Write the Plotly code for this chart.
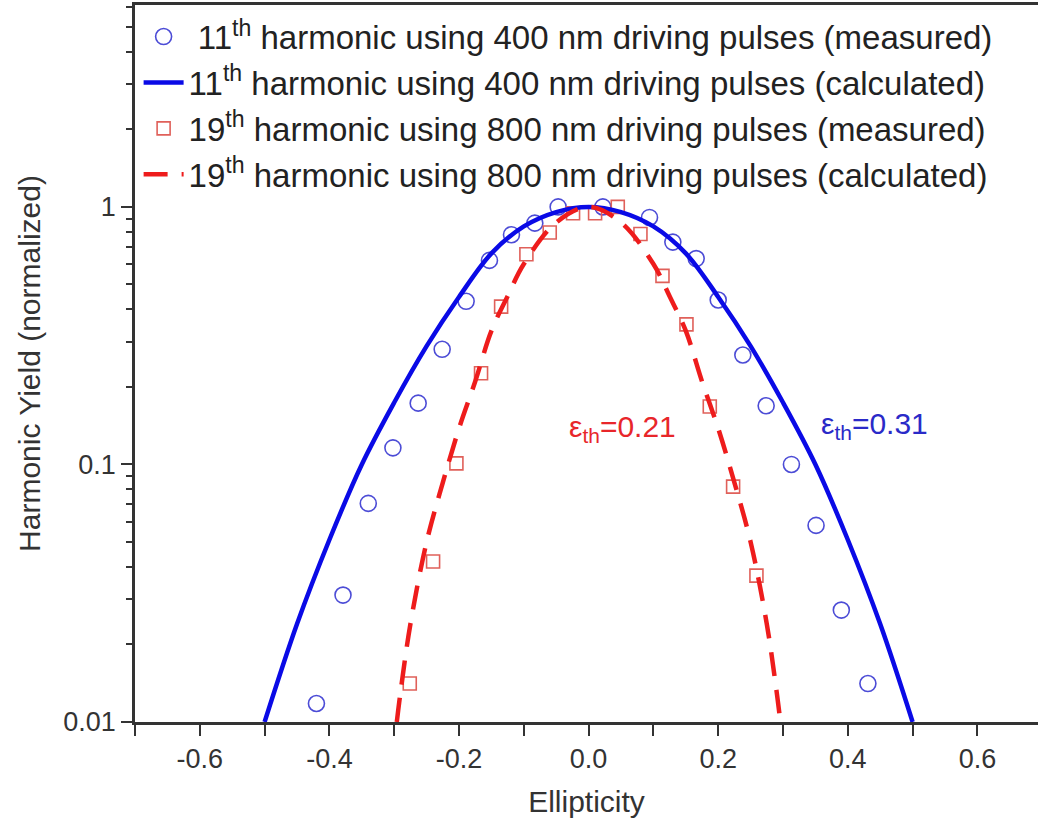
import plotly.graph_objects as go

# Measured 11th harmonic (400 nm) - open circles
circ_x = [-0.42, -0.379, -0.34, -0.302, -0.263, -0.226, -0.189, -0.153, -0.119, -0.083, -0.047,
          0.022, 0.094, 0.13, 0.166, 0.2, 0.238, 0.274, 0.313, 0.351, 0.39, 0.431]
circ_y = [0.0118, 0.0311, 0.0706, 0.116, 0.173, 0.28, 0.43, 0.62, 0.78, 0.865, 1.0,
          1.0, 0.91, 0.73, 0.63, 0.435, 0.266, 0.169, 0.10, 0.058, 0.0272, 0.0141]

# Measured 19th harmonic (800 nm) - open squares
sq_x = [-0.276, -0.240, -0.204, -0.166, -0.135, -0.096, -0.06, -0.024, 0.010, 0.045,
        0.080, 0.114, 0.151, 0.187, 0.223, 0.259]
sq_y = [0.0141, 0.042, 0.101, 0.226, 0.41, 0.655, 0.795, 0.945, 0.945, 1.0,
        0.785, 0.54, 0.35, 0.168, 0.082, 0.037]

# Calculated 11th harmonic (blue solid)
calc11_x = [-0.5, -0.45, -0.4, -0.35, -0.3, -0.25, -0.2, -0.15, -0.1, -0.05, 0.0,
            0.05, 0.1, 0.15, 0.2, 0.25, 0.3, 0.35, 0.4, 0.45, 0.5]
calc11_y = [0.01, 0.024, 0.051, 0.10, 0.174, 0.288, 0.447, 0.66, 0.84, 0.955, 1.0,
            0.955, 0.84, 0.66, 0.447, 0.288, 0.174, 0.10, 0.051, 0.024, 0.01]

# Calculated 19th harmonic (red dashed)
calc19_x = [-0.296, -0.29, -0.275, -0.25, -0.225, -0.2, -0.175, -0.15, -0.125, -0.1, -0.05, 0.0,
            0.05, 0.1, 0.125, 0.15, 0.175, 0.2, 0.225, 0.25, 0.275, 0.29, 0.296]
calc19_y = [0.01, 0.0132, 0.024, 0.050, 0.085, 0.138, 0.21, 0.33, 0.45, 0.60, 0.87, 1.0,
            0.87, 0.60, 0.45, 0.33, 0.21, 0.138, 0.085, 0.050, 0.024, 0.0132, 0.01]

names = [
    "\u00a011<sup>th</sup> harmonic using 400 nm driving pulses (measured)",
    "11<sup>th</sup> harmonic using 400 nm driving pulses (calculated)",
    "19<sup>th</sup> harmonic using 800 nm driving pulses (measured)",
    "19<sup>th</sup> harmonic using 800 nm driving pulses (calculated)",
]

x_ticks = [-0.6, -0.4, -0.2, 0.0, 0.2, 0.4, 0.6]
x_ticktext = ["-0.6", "-0.4", "-0.2", "0.0", "0.2", "0.4", "0.6"]
y_ticks = [0.01, 0.1, 1]
y_ticktext = ["0.01", "0.1", "1"]

FONT = "Liberation Sans, Arial, sans-serif"

fig = go.Figure()
fig.add_trace(go.Scatter(x=circ_x, y=circ_y, mode="markers", name=names[0], legendrank=1,
                         marker=dict(symbol="circle-open", size=16, color="#4c4cd6",
                                     line=dict(width=1.6, color="#4c4cd6"))))
fig.add_trace(go.Scatter(x=sq_x, y=sq_y, mode="markers", name=names[2], legendrank=3,
                         marker=dict(symbol="square-open", size=13, color="#e0605a",
                                     line=dict(width=1.6, color="#e0605a"))))
fig.add_trace(go.Scatter(x=calc11_x, y=calc11_y, mode="lines", name=names[1], legendrank=2,
                         line=dict(color="#0a0ae6", width=4.5, shape="spline")))
fig.add_trace(go.Scatter(x=calc19_x, y=calc19_y, mode="lines", name=names[3], legendrank=4,
                         line=dict(color="#ee1c1c", width=4.5, dash="24px,14px", shape="spline")))

fig.add_annotation(xref="paper", yref="paper", x=0.478, y=0.41, xanchor="left", yanchor="middle",
                   text="\u03b5<sub>th</sub>=0.21", showarrow=False,
                   font=dict(family=FONT, size=30, color="#e8262a"))
fig.add_annotation(xref="paper", yref="paper", x=0.757, y=0.414, xanchor="left", yanchor="middle",
                   text="\u03b5<sub>th</sub>=0.31", showarrow=False,
                   font=dict(family=FONT, size=30, color="#2a2ac8"))

fig.update_layout(
    width=1038, height=834,
    margin=dict(l=135, r=0, t=5, b=112),
    paper_bgcolor="white", plot_bgcolor="white",
    font=dict(family=FONT, color="#222222"),
    showlegend=True,
    legend=dict(x=0.004, y=0.995, xanchor="left", yanchor="top",
                bgcolor="rgba(255,255,255,0)", font=dict(size=33, family=FONT, color="#222222"),
                itemwidth=40, tracegroupgap=0),
    xaxis=dict(range=[-0.7, 0.6935], tickmode="array", tickvals=x_ticks, ticktext=x_ticktext,
               ticks="outside", ticklen=11, tickwidth=2, tickcolor="#333",
               minor=dict(dtick=0.1, tick0=0, ticks="outside", ticklen=11, tickwidth=2, tickcolor="#333"),
               showline=True, linewidth=2.5, linecolor="#333", mirror=True,
               showgrid=False, zeroline=False,
               tickfont=dict(size=27, family=FONT, color="#333"),
               title=dict(text="Ellipticity", font=dict(size=30, family=FONT, color="#333"), standoff=18)),
    yaxis=dict(type="log", range=[-2, 0.784], tickmode="array", tickvals=y_ticks, ticktext=y_ticktext,
               ticks="outside", ticklen=11, tickwidth=2, tickcolor="#333",
               minor=dict(dtick="D1", ticks="outside", ticklen=6, tickwidth=1.5, tickcolor="#333"),
               showline=True, linewidth=2.5, linecolor="#333", mirror=False,
               showgrid=False, zeroline=False,
               tickfont=dict(size=27, family=FONT, color="#333"),
               title=dict(text="Harmonic Yield (normalized)", font=dict(size=30, family=FONT, color="#333"), standoff=14)),
)

fig.write_html("out.html")
